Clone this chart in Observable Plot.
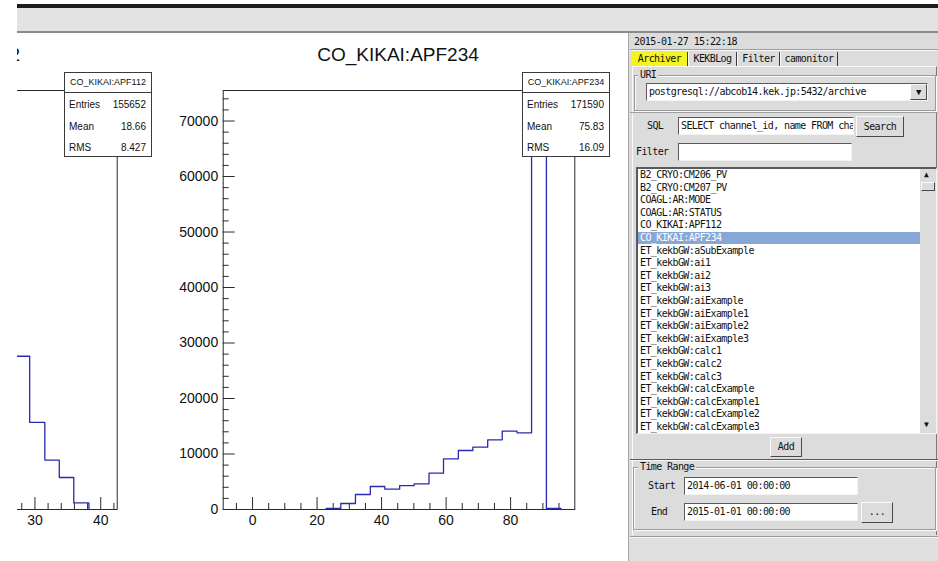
<!DOCTYPE html>
<html>
<head>
<meta charset="utf-8">
<script src="https://cdn.jsdelivr.net/npm/d3@7"></script>
<script src="https://cdn.jsdelivr.net/npm/@observablehq/plot@0.6"></script>
<style>
  html, body { margin: 0; padding: 0; }
  body { width: 938px; height: 561px; position: relative; overflow: hidden; background: #fff; font-family: "Liberation Sans", Arial, sans-serif; }
  .abs { position: absolute; box-sizing: border-box; }
  .mono { font-family: "DejaVu Sans Mono", "Liberation Mono", monospace; font-size: 10px; letter-spacing: -0.6px; color: #111; white-space: nowrap; line-height: 12px; }
  .sunk { background: #fff; border: 1px solid; border-color: #5a5a5a #f4f4f4 #f4f4f4 #5a5a5a; overflow: hidden; }
  .btn { background: #dcdcdc; border: 1px solid; border-color: #fafafa #4a4a4a #4a4a4a #fafafa; text-align: center; }
  .grp { border: 1px solid #9a9a9a; box-shadow: inset 1px 1px 0 #fafafa, 1px 1px 0 #fafafa; }
  .glabel { background: #dcdcdc; padding: 0 2px; }
  .stats { background: #fff; border: 1px solid #3a3a3a; font-size: 10px; color: #111; }
  .stats .hd { position: absolute; left: 0; right: 0; top: 0; height: 19px; border-bottom: 1px solid #3a3a3a; text-align: center; font-size: 9px; line-height: 19px; }
  .stats .row { position: absolute; left: 4px; right: 5px; height: 14px; line-height: 14px; }
  .stats .row span:last-child { float: right; }
</style>
</head>
<body>
<script>
// ---------------- data ----------------
const rightTitle = "CO_KIKAI:APF234";
const leftTitle = "CO_KIKAI:APF112";
const rightStats = [["Entries", "171590"], ["Mean", "75.83"], ["RMS", "16.09"]];
const leftStats = [["Entries", "155652"], ["Mean", "18.66"], ["RMS", "8.427"]];

// right histogram (CO_KIKAI:APF234): bin edges and counts
const rightEdges = [22.8, 27.35, 31.9, 36.5, 41.0, 45.6, 50.1, 54.7, 59.2, 63.8, 68.3, 72.9, 77.4, 82.0, 86.5, 91.1, 95.6];
const rightCounts = [180, 1080, 2700, 4140, 3660, 4320, 4620, 6550, 9130, 10630, 11230, 12560, 14110, 13820, 71900, 200];
const rightXDomain = [-9.1, 99.9];
const rightYDomain = [0, 75500];
const rightXMajor = [0, 20, 40, 60, 80];
const rightXMinor = [-5, 5, 10, 15, 25, 30, 35, 45, 50, 55, 65, 70, 75, 85, 90, 95];
const rightYMajor = [0, 10000, 20000, 30000, 40000, 50000, 60000, 70000];
const rightYMinor = [2000, 4000, 6000, 8000, 12000, 14000, 16000, 18000, 22000, 24000, 26000, 28000, 32000, 34000, 36000, 38000, 42000, 44000, 46000, 48000, 52000, 54000, 56000, 58000, 62000, 64000, 66000, 68000, 72000, 74000];

// left histogram (CO_KIKAI:APF112), visible tail only
const leftEdges = [26.95, 29.2, 31.5, 33.7, 35.9, 38.2];
const leftCounts = [6950, 3950, 2240, 1450, 300];
const leftXDomain = [-11.2, 42.5];
const leftYDomain = [0, 19000];
const leftXMajor = [30, 40];
const leftXMinor = [28, 32, 34, 36, 38, 42];

// side panel texts
const timeStamp = "2015-01-27 15:22:18";
const tabs = ["Archiver", "KEKBLog", "Filter", "camonitor"];
const uriText = "postgresql://abcob14.kek.jp:5432/archive";
const sqlText = "SELECT channel_id, name FROM cha";
const listItems = ["B2_CRYO:CM206_PV", "B2_CRYO:CM207_PV", "COAGL:AR:MODE", "COAGL:AR:STATUS", "CO_KIKAI:APF112", "CO_KIKAI:APF234",
  "ET_kekbGW:aSubExample", "ET_kekbGW:ai1", "ET_kekbGW:ai2", "ET_kekbGW:ai3", "ET_kekbGW:aiExample", "ET_kekbGW:aiExample1",
  "ET_kekbGW:aiExample2", "ET_kekbGW:aiExample3", "ET_kekbGW:calc1", "ET_kekbGW:calc2", "ET_kekbGW:calc3", "ET_kekbGW:calcExample",
  "ET_kekbGW:calcExample1", "ET_kekbGW:calcExample2", "ET_kekbGW:calcExample3"];
const selectedItem = "CO_KIKAI:APF234";
const startTime = "2014-06-01 00:00:00";
const endTime = "2015-01-01 00:00:00";

// ---------------- helpers ----------------
function el(parent, cls, css, text) {
  const d = document.createElement("div");
  d.className = cls;
  d.style.cssText = css;
  if (text != null) d.textContent = text;
  parent.appendChild(d);
  return d;
}
function stepPoints(edges, counts, fromZero) {
  const pts = [];
  if (fromZero) pts.push({x: edges[0], y: 0});
  counts.forEach((c, i) => pts.push({x: edges[i], y: c}));
  pts.push({x: edges[edges.length - 1], y: counts[counts.length - 1]});
  pts.push({x: edges[edges.length - 1], y: 0});
  return pts;
}
const histColor = "#2a2ab0";
const frameColor = "#2a2a2a";

// ---------------- top bar ----------------
el(document.body, "abs", "left:17px;top:4px;width:921px;height:5px;background:#1c1c1c;");
el(document.body, "abs", "left:17px;top:8px;width:921px;height:23px;background:#e3e3e3;");
el(document.body, "abs", "left:17px;top:31px;width:921px;height:2px;background:#8a8a8a;");

// ---------------- canvas ----------------
const canvas = el(document.body, "abs", "left:17px;top:33px;width:611px;height:528px;overflow:hidden;background:#fff;");
const OX = 17, OY = 33; // page offset of canvas

function histPlot({pageLeft, width, frameL, frameR, xDomain, yDomain, xMajor, xMinor, yMajor, yMinor, points, yAxis}) {
  const frameTop = 90, frameBottom = 509, top = 33, height = 528;
  const fw = frameR - frameL, fh = frameBottom - frameTop;
  const marks = [
    Plot.frame({stroke: frameColor}),
    Plot.tickX(xMinor, {x: d => d, insetTop: fh - 6, stroke: frameColor}),
    Plot.tickX(xMajor, {x: d => d, insetTop: fh - 12, stroke: frameColor}),
    Plot.axisX({ticks: xMajor, tickSize: 0, tickPadding: 6, label: null, fontSize: 14, tickFormat: d3.format("d")}),
    Plot.line(points, {x: "x", y: "y", curve: "step-after", stroke: histColor, strokeWidth: 1.3})
  ];
  if (yAxis) {
    marks.push(Plot.tickY(yMinor, {y: d => d, insetRight: fw - 6, stroke: frameColor}));
    marks.push(Plot.tickY(yMajor, {y: d => d, insetRight: fw - 12, stroke: frameColor}));
    marks.push(Plot.axisY({ticks: yMajor, tickSize: 0, tickPadding: 5, label: null, fontSize: 14, tickFormat: d3.format("d")}));
  } else {
    marks.push(Plot.axisY({ticks: [], label: null}));
  }
  const svg = Plot.plot({
    width, height,
    marginLeft: frameL - pageLeft, marginRight: pageLeft + width - frameR,
    marginTop: frameTop - top, marginBottom: top + height - frameBottom,
    x: {domain: xDomain},
    y: {domain: yDomain},
    style: {fontFamily: "'Liberation Sans', Arial, sans-serif", fontSize: "14px", color: "#111", background: "transparent", overflow: "visible"},
    marks
  });
  svg.style.position = "absolute";
  svg.style.left = (pageLeft - OX) + "px";
  svg.style.top = (top - OY) + "px";
  svg.style.maxWidth = "none";
  canvas.appendChild(svg);
}

histPlot({pageLeft: -300, width: 460, frameL: -236.7, frameR: 116.7, xDomain: leftXDomain, yDomain: leftYDomain,
  xMajor: leftXMajor, xMinor: leftXMinor, yMajor: [], yMinor: [], points: stepPoints(leftEdges, leftCounts, false), yAxis: false});
histPlot({pageLeft: 150, width: 470, frameL: 222.7, frameR: 574.3, xDomain: rightXDomain, yDomain: rightYDomain,
  xMajor: rightXMajor, xMinor: rightXMinor, yMajor: rightYMajor, yMinor: rightYMinor, points: stepPoints(rightEdges, rightCounts, true), yAxis: true});

// titles
el(canvas, "abs", `left:${-60 - OX}px;top:${45 - OY}px;font-size:19px;line-height:19px;transform:translateX(-50%);white-space:nowrap;color:#111;`, leftTitle);
el(canvas, "abs", `left:${398 - OX}px;top:${45 - OY}px;font-size:19px;line-height:19px;transform:translateX(-50%);white-space:nowrap;color:#111;`, rightTitle);

// stats boxes
function statsBox(x, y, w, h, title, rows) {
  const b = el(canvas, "abs stats", `left:${x - OX}px;top:${y - OY}px;width:${w}px;height:${h}px;`);
  el(b, "hd", "", title);
  const centers = [31.5, 54, 74.5];
  rows.forEach((r, i) => {
    const row = el(b, "row", `top:${centers[i] - 7}px;`);
    const a = document.createElement("span"); a.textContent = r[0];
    const v = document.createElement("span"); v.textContent = r[1];
    row.appendChild(a); row.appendChild(v);
  });
}
statsBox(64, 72, 88, 85, leftTitle, leftStats);
statsBox(522, 72, 88, 85, rightTitle, rightStats);

// ---------------- side panel ----------------
const P = el(document.body, "abs", "left:628px;top:33px;width:310px;height:528px;background:#dcdcdc;border-left:1px solid #a8a8a8;");
const px = (x) => x - 628, py = (y) => y - 33;
function pel(cls, x, y, w, h, css, text) {
  return el(P, "abs " + cls, `left:${px(x)}px;top:${py(y)}px;${w != null ? "width:" + w + "px;" : ""}${h != null ? "height:" + h + "px;" : ""}${css || ""}`, text);
}
// date row
pel("mono", 633, 36, null, 12, "", timeStamp);
pel("", 629, 49, 309, 1, "background:#a0a0a0;");
pel("", 629, 50, 309, 1, "background:#f6f6f6;");
// tabs
const tabX = [631, 687, 736, 779, 837];
tabs.forEach((t, i) => {
  const w = tabX[i + 1] - tabX[i];
  const tab = pel("mono", tabX[i], 52, w, 14, `text-align:center;line-height:14px;${i === 0 ? "background:#f4f41e;" : ""}`, t);
  tab.style.borderRight = "1px solid #3a3a3a";
  if (i > 0) tab.style.borderLeft = "1px solid #fafafa";
});
pel("", 631, 66, 305, 469, "border-top:1px solid #fafafa;border-left:1px solid #fafafa;border-right:1px solid #7a7a7a;");
// URI group
pel("grp", 633, 75, 302, 36);
pel("mono glabel", 637, 69, null, 12, "", "URI");
pel("sunk mono", 645, 83, 282, 18, "line-height:16px;padding-left:2px;", uriText);
pel("btn mono", 909, 84, 17, 16, "line-height:14px;font-size:9px;", "▼");
pel("", 629, 112, 309, 1, "background:#a0a0a0;");
// SQL row
pel("mono", 646, 120, null, 12, "", "SQL");
pel("sunk mono", 677, 117, 176, 18, "line-height:16px;padding-left:2px;", sqlText);
pel("btn mono", 855, 116, 48, 21, "line-height:19px;", "Search");
// Filter row
pel("mono", 635, 146, null, 12, "", "Filter");
pel("sunk", 677, 143, 174, 18);
// list box
const list = pel("sunk", 635, 167, 301, 267, "border-width:2px 1px 1px 2px;");
listItems.forEach((t, i) => {
  const sel = t === selectedItem;
  el(list, "abs mono", `left:0;top:${i * 12.6}px;width:284px;height:12px;line-height:12px;padding-left:2px;${sel ? "background:#87a7d6;color:#fff;" : ""}`, t);
});
// scrollbar
pel("", 919, 169, 16, 264, "background:#dcdcdc;");
pel("mono", 923, 169, 10, 12, "font-size:8px;line-height:12px;", "▲");
pel("btn", 920, 182, 14, 9);
pel("mono", 923, 419, 10, 12, "font-size:8px;line-height:12px;", "▼");
// Add button
pel("btn mono", 769, 437, 32, 20, "line-height:18px;", "Add");
pel("", 629, 459, 309, 1, "background:#5a5a5a;");
pel("", 629, 460, 309, 1, "background:#f6f6f6;");
// Time range group
pel("grp", 632, 467, 303, 63);
pel("mono glabel", 637, 461, null, 12, "", "Time Range");
pel("mono", 647, 480, null, 12, "", "Start");
pel("sunk mono", 683, 477, 174, 18, "line-height:16px;padding-left:2px;", startTime);
pel("mono", 650, 506, null, 12, "", "End");
pel("sunk mono", 683, 503, 174, 18, "line-height:16px;padding-left:2px;", endTime);
pel("btn mono", 860, 502, 32, 21, "line-height:17px;", "...");
// bottom status area
pel("", 629, 536, 309, 1, "background:#9a9a9a;");
pel("", 629, 537, 309, 24, "background:#e0e0e0;border-top:1px solid #f6f6f6;");
</script>
</body>
</html>
